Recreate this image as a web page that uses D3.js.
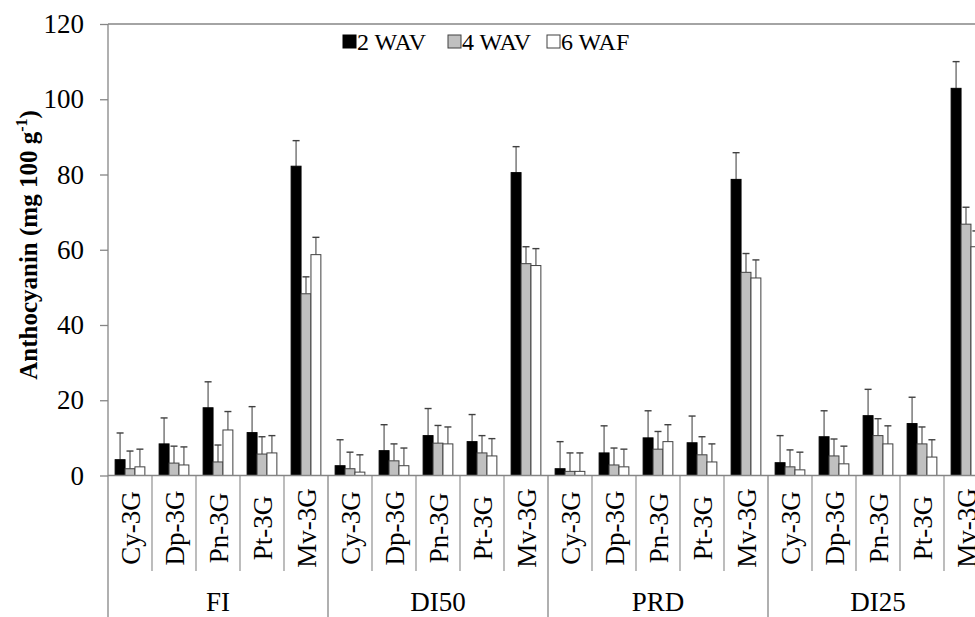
<!DOCTYPE html>
<html>
<head>
<meta charset="utf-8">
<script src="https://cdn.jsdelivr.net/npm/d3@7"></script>
<style>
body{margin:0;background:#fff;}
text{font-family:"Liberation Serif","Times New Roman",serif;fill:#000;}
</style>
</head>
<body>
<svg id="chart"></svg>
<script>
// data
var groups=["FI","DI50","PRD","DI25"]
var compounds=["Cy-3G","Dp-3G","Pn-3G","Pt-3G","Mv-3G"]
var series=["2 WAV","4 WAV","6 WAF"]
var yTicks=[0,20,40,60,80,100,120]

// means, one array per group, order = compounds, per series
var wav2=[[4.2,8.4,18.0,11.4,82.2],[2.6,6.6,10.6,9.0,80.5],[1.8,6.0,10.0,8.7,78.7],[3.4,10.3,15.9,13.8,102.9]]
var wav4=[[1.8,3.3,3.6,5.7,48.3],[1.8,3.9,8.6,6.0,56.3],[1.1,2.8,7.0,5.5,54.0],[2.3,5.2,10.6,8.4,66.8]]
var waf6=[[2.3,2.8,12.1,6.0,58.7],[0.9,2.6,8.4,5.2,55.8],[1.1,2.3,9.0,3.6,52.5],[1.5,3.1,8.4,4.9,60.8]]
// upper error bar ends
var wav2Err=[[11.3,15.3,24.9,18.3,89.0],[9.5,13.5,17.8,16.2,87.4],[9.0,13.2,17.2,15.8,85.8],[10.6,17.2,22.9,20.8,110.0]]
var wav4Err=[[6.5,7.8,8.1,10.3,52.8],[6.2,8.4,13.3,10.6,60.8],[6.0,7.3,11.7,10.3,59.0],[6.8,9.7,15.1,12.9,71.3]]
var waf6Err=[[7.0,7.6,17.0,10.6,63.3],[5.5,7.3,12.9,9.8,60.3],[6.0,7.0,13.5,8.4,57.3],[6.2,7.8,13.2,9.5,65.0]]

var fills=["#000000","#c0c0c0","#ffffff"]
var strokes=["#000000","#404040","#404040"]

var screen={width:975,height:617}
var margins={top:24,left:108,bottom:141.5}
var plotRight=988

var svg=d3.select("#chart")
    .attr("width",screen.width)
    .attr("height",screen.height)

var yScale=d3.scaleLinear()
    .domain([0,120])
    .range([screen.height-margins.bottom,margins.top])
var y0=yScale(0)

var slots=[]
groups.forEach(function(g,gi){
    compounds.forEach(function(c,ci){
        slots.push({key:g+"|"+c,group:g,gi:gi,compound:c,ci:ci})
    })
})
var xScale=d3.scaleBand()
    .domain(slots.map(function(d){return d.key}))
    .range([margins.left,plotRight])
var xGroup=d3.scaleBand()
    .domain(groups)
    .range([margins.left,plotRight])
var xSeries=d3.scaleBand()
    .domain(series)
    .range([0,xScale.bandwidth()])
    .paddingOuter(0.72)

var means=[wav2,wav4,waf6]
var errs=[wav2Err,wav4Err,waf6Err]
var bars=[]
slots.forEach(function(s){
    series.forEach(function(se,si){
        bars.push({slot:s,series:se,si:si,
            value:means[si][s.gi][s.ci],
            err:errs[si][s.gi][s.ci]})
    })
})

var axisColor="#868686"
var mid=function(d){return xScale(d.slot.key)+xSeries(d.series)+xSeries.bandwidth()/2}

// top frame line
svg.append("line")
    .attr("x1",margins.left).attr("x2",plotRight)
    .attr("y1",margins.top).attr("y2",margins.top)
    .attr("stroke",axisColor).attr("stroke-width",1.3)

// error bars
var eb=svg.append("g")
eb.selectAll("line.stem")
    .data(bars)
    .enter()
    .append("line")
    .attr("x1",mid).attr("x2",mid)
    .attr("y1",function(d){return yScale(d.value)})
    .attr("y2",function(d){return yScale(d.err)})
    .attr("stroke","#707070").attr("stroke-width",1.4)
eb.selectAll("line.cap")
    .data(bars)
    .enter()
    .append("line")
    .attr("x1",function(d){return mid(d)-3.5})
    .attr("x2",function(d){return mid(d)+3.5})
    .attr("y1",function(d){return yScale(d.err)})
    .attr("y2",function(d){return yScale(d.err)})
    .attr("stroke","#404040").attr("stroke-width",1.4)

svg.append("g")
    .selectAll("rect")
    .data(bars)
    .enter()
    .append("rect")
    .attr("x",function(d){return xScale(d.slot.key)+xSeries(d.series)})
    .attr("y",function(d){return yScale(d.value)})
    .attr("width",xSeries.bandwidth())
    .attr("height",function(d){return y0-yScale(d.value)})
    .attr("fill",function(d){return fills[d.si]})
    .attr("stroke",function(d){return strokes[d.si]})
    .attr("stroke-width",1)

// y axis
var yAxis=d3.axisLeft(yScale).tickValues(yTicks).tickSize(8).tickPadding(16)
var ya=svg.append("g")
    .attr("transform","translate("+margins.left+",0)")
    .call(yAxis)
ya.select(".domain").remove()
ya.selectAll(".tick line").attr("stroke",axisColor).attr("stroke-width",1.3)
ya.selectAll(".tick text").style("font-size","27px").attr("fill","#000")
    .attr("font-family","Liberation Serif")

// left axis line down to bottom
svg.append("line")
    .attr("x1",margins.left).attr("x2",margins.left)
    .attr("y1",margins.top).attr("y2",screen.height)
    .attr("stroke",axisColor).attr("stroke-width",1.3)

// x axis baseline
svg.append("line")
    .attr("x1",margins.left).attr("x2",plotRight)
    .attr("y1",y0).attr("y2",y0)
    .attr("stroke",axisColor).attr("stroke-width",1.3)

// slot dividers
svg.append("g")
    .selectAll("line")
    .data(slots.filter(function(d){return d.ci>0}))
    .enter()
    .append("line")
    .attr("x1",function(d){return xScale(d.key)})
    .attr("x2",function(d){return xScale(d.key)})
    .attr("y1",y0).attr("y2",571)
    .attr("stroke",axisColor).attr("stroke-width",1.1)

// group dividers
svg.append("g")
    .selectAll("line")
    .data(groups.slice(1))
    .enter()
    .append("line")
    .attr("x1",function(d){return xGroup(d)})
    .attr("x2",function(d){return xGroup(d)})
    .attr("y1",y0).attr("y2",screen.height)
    .attr("stroke",axisColor).attr("stroke-width",1.3)

// compound labels
svg.append("g")
    .selectAll("text")
    .data(slots)
    .enter()
    .append("text")
    .attr("transform",function(d){
        return "translate("+(xScale(d.key)+xScale.bandwidth()/2+9.5)+",528) rotate(-90)"})
    .attr("text-anchor","middle")
    .style("font-size","27px")
    .text(function(d){return d.compound})

// group labels
svg.append("g")
    .selectAll("text")
    .data(groups)
    .enter()
    .append("text")
    .attr("x",function(d){return xGroup(d)+xGroup.bandwidth()/2})
    .attr("y",611)
    .attr("text-anchor","middle")
    .style("font-size","27px")
    .text(function(d){return d})

// y title
var yt=svg.append("text")
    .attr("transform","translate(37,245) rotate(-90)")
    .attr("text-anchor","middle")
    .style("font-size","25px")
    .style("font-weight","bold")
yt.append("tspan").text("Anthocyanin (mg 100 g")
yt.append("tspan").attr("dy",-10).style("font-size","16px").text("-1")
yt.append("tspan").attr("dy",10).text(")")

// legend
var legX=[343,448,547]
var leg=svg.append("g")
    .selectAll("g")
    .data(series)
    .enter()
    .append("g")
    .attr("transform",function(d,i){return "translate("+legX[i]+",42)"})
leg.append("rect")
    .attr("x",0).attr("y",-7).attr("width",13).attr("height",13)
    .attr("fill",function(d,i){return fills[i]})
    .attr("stroke",function(d,i){return strokes[i]})
leg.append("text")
    .attr("x",14).attr("y",8)
    .style("font-size","24px")
    .text(function(d){return d})
</script>
</body>
</html>
